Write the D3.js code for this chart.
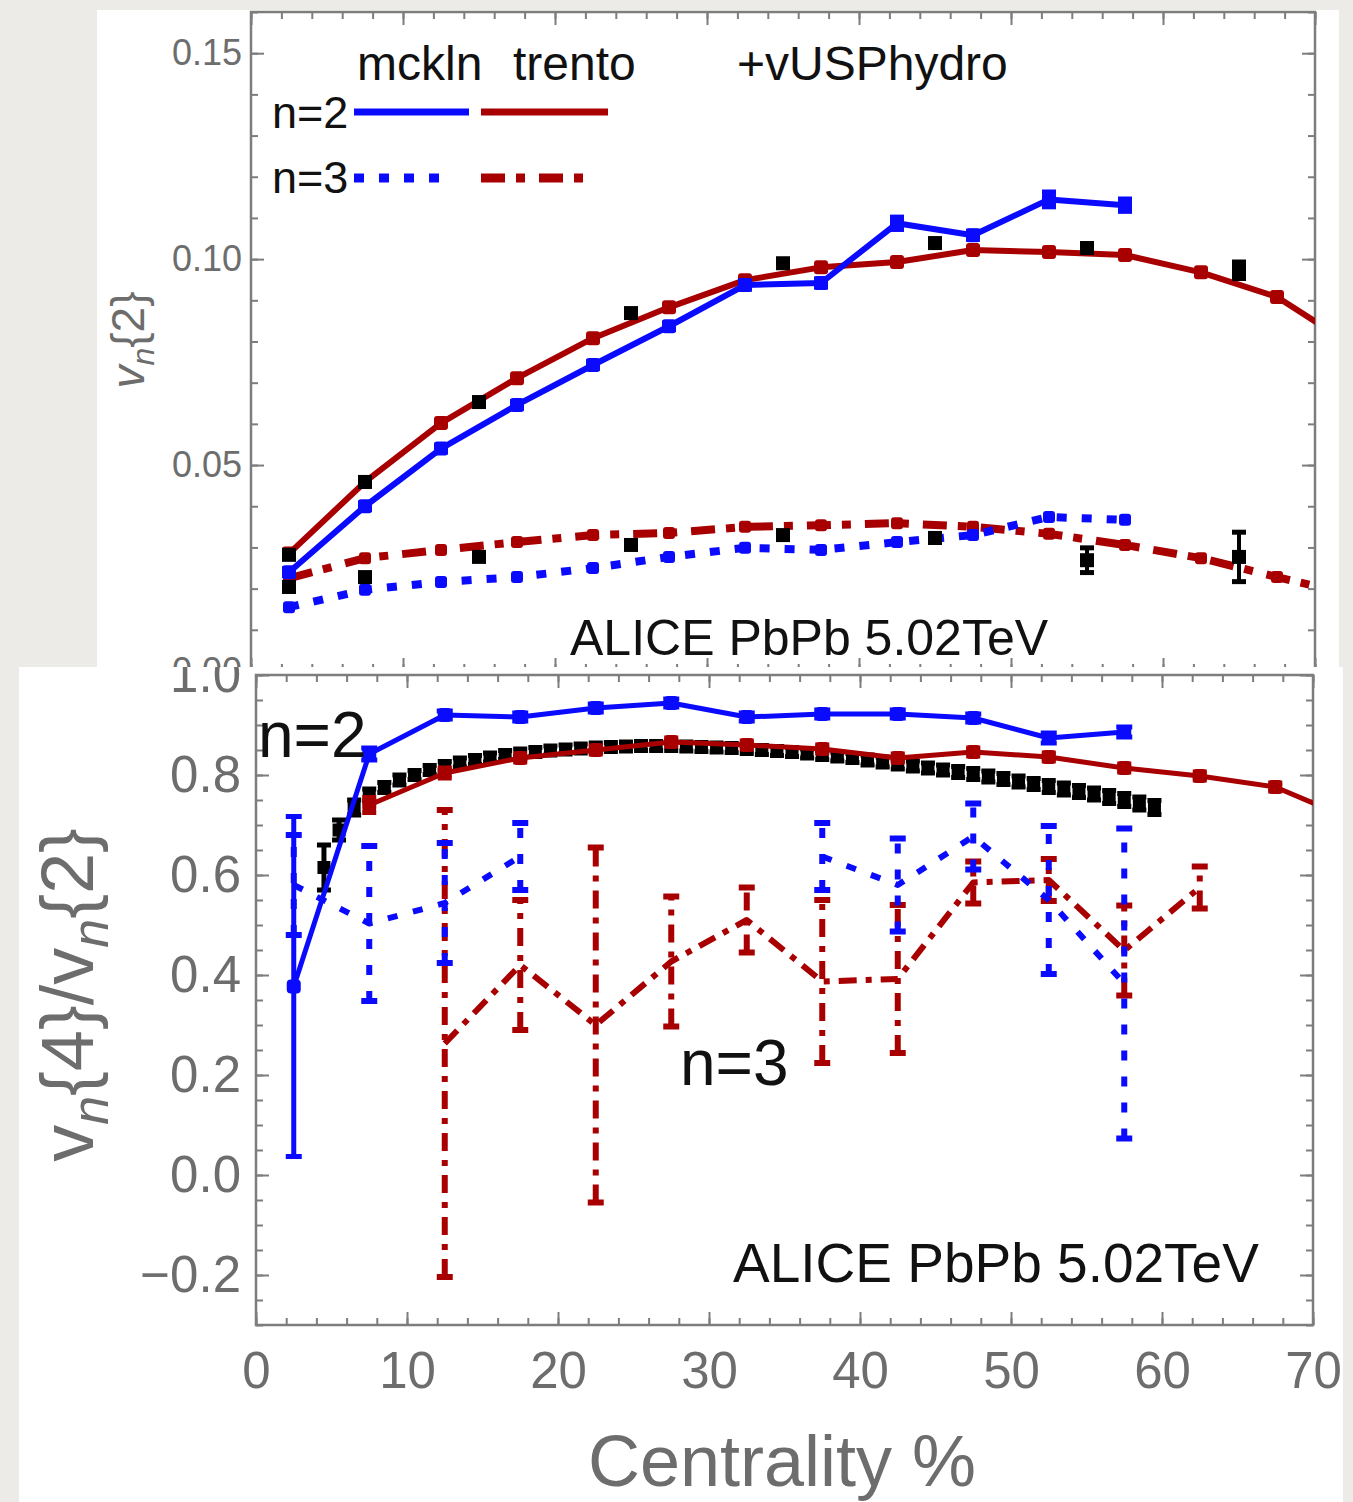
<!DOCTYPE html>
<html>
<head>
<meta charset="utf-8">
<script src="https://cdn.jsdelivr.net/npm/d3@7"></script>
<style>
body { margin: 0; background: #ecebe8; }
svg { display: block; }
text { font-family: "Liberation Sans", Arial, Helvetica, sans-serif; }
</style>
</head>
<body>
<svg id="chart" width="1353" height="1502"></svg>
<script>
// ---- top panel: vn{2} ----
var cModel = [2.5, 7.5, 12.5, 17.5, 22.5, 27.5, 32.5, 37.5, 42.5, 47.5, 52.5, 57.5, 62.5, 67.5, 72.5];
var v2Mckln = [0.0240, 0.0400, 0.0540, 0.0646, 0.0743, 0.0837, 0.0937, 0.0942, 0.1087, 0.1058, 0.1145, 0.1131];
var v2McklnErr = [0.0008, 0.0008, 0.0008, 0.0008, 0.0008, 0.0008, 0.001, 0.001, 0.0015, 0.001, 0.0018, 0.0015];
var v2Trento = [0.0285, 0.0459, 0.0602, 0.0711, 0.0808, 0.0883, 0.0949, 0.0980, 0.0993, 0.1022, 0.1017, 0.1010, 0.0968, 0.0908, 0.0790];
var v3Mckln = [0.0155, 0.0197, 0.0216, 0.0228, 0.0250, 0.0277, 0.0299, 0.0294, 0.0313, 0.0330, 0.0374, 0.0367];
var v3Trento = [0.0225, 0.0274, 0.0294, 0.0313, 0.0330, 0.0335, 0.0350, 0.0354, 0.0359, 0.0350, 0.0333, 0.0306, 0.0274, 0.0228, 0.0185];

var cAlice = [2.5, 7.5, 15, 25, 35, 45, 55, 65];
var v2Alice = [0.0282, 0.0459, 0.0653, 0.0869, 0.0990, 0.1039, 0.1027, 0.0973];
var v2AliceErr = [0.0005, 0.0005, 0.0005, 0.0005, 0.0006, 0.0008, 0.001, 0.002];
var v3Alice = [0.0204, 0.0228, 0.0277, 0.0306, 0.0330, 0.0323, 0.0269, 0.0277];
var v3AliceErr = [0.0005, 0.0005, 0.0005, 0.0006, 0.0008, 0.001, 0.003, 0.006];

// ---- bottom panel: vn{4}/vn{2} ----
var r2Mckln = [0.377, 0.842, 0.920, 0.916, 0.934, 0.944, 0.916, 0.922, 0.922, 0.914, 0.874, 0.886];
var r2McklnErr = [0.34, 0.012, 0.008, 0.008, 0.008, 0.008, 0.008, 0.008, 0.008, 0.008, 0.01, 0.01];
var r2Trento = [null, 0.740, 0.804, 0.834, 0.850, 0.866, 0.860, 0.852, 0.834, 0.846, 0.836, 0.814, 0.798, 0.776, 0.712];
var r2TrentoErr = [null, 0.015, 0.01, 0.008, 0.008, 0.008, 0.008, 0.008, 0.008, 0.008, 0.008, 0.008, 0.008, 0.008, 0.008];
var r3Mckln = [0.58, 0.503, 0.544, 0.637, null, null, null, 0.637, 0.58, 0.677, 0.55, 0.383];
var r3McklnErr = [0.10, 0.155, 0.12, 0.067, null, null, null, 0.067, 0.093, 0.066, 0.148, 0.31];
var r3Trento = [null, null, 0.263, 0.42, 0.30, 0.427, 0.51, 0.387, 0.392, 0.585, 0.59, 0.449, 0.575];
var r3TrentoErr = [null, null, 0.467, 0.13, 0.355, 0.13, 0.065, 0.163, 0.148, 0.042, 0.042, 0.09, 0.042];

var cRatio = [4.5, 5.5, 6.5, 7.5, 8.5, 9.5, 10.5, 11.5, 12.5, 13.5, 14.5, 15.5, 16.5, 17.5, 18.5, 19.5,
    20.5, 21.5, 22.5, 23.5, 24.5, 25.5, 26.5, 27.5, 28.5, 29.5, 30.5, 31.5, 32.5, 33.5, 34.5, 35.5,
    36.5, 37.5, 38.5, 39.5, 40.5, 41.5, 42.5, 43.5, 44.5, 45.5, 46.5, 47.5, 48.5, 49.5, 50.5, 51.5,
    52.5, 53.5, 54.5, 55.5, 56.5, 57.5, 58.5, 59.5];
var rAlice = [0.615, 0.690, 0.735, 0.760, 0.775, 0.790, 0.800, 0.810, 0.818, 0.825, 0.830, 0.835, 0.840, 0.843, 0.846, 0.849,
    0.851, 0.853, 0.855, 0.856, 0.857, 0.858, 0.858, 0.858, 0.857, 0.856, 0.855, 0.854, 0.852, 0.850, 0.848, 0.846,
    0.843, 0.840, 0.837, 0.834, 0.830, 0.826, 0.822, 0.818, 0.814, 0.810, 0.806, 0.802, 0.797, 0.792, 0.787, 0.782,
    0.777, 0.772, 0.767, 0.762, 0.756, 0.750, 0.743, 0.735];
var rAliceErr = [0.045, 0.02, 0.015, 0.012, 0.01, 0.01, 0.009, 0.009, 0.009, 0.009, 0.009, 0.009, 0.009, 0.009, 0.009, 0.009,
    0.009, 0.009, 0.009, 0.009, 0.009, 0.009, 0.009, 0.009, 0.009, 0.009, 0.009, 0.009, 0.009, 0.009, 0.009, 0.009,
    0.009, 0.009, 0.009, 0.009, 0.01, 0.01, 0.01, 0.01, 0.01, 0.01, 0.011, 0.011, 0.011, 0.011, 0.011, 0.011,
    0.012, 0.012, 0.012, 0.012, 0.013, 0.013, 0.013, 0.014];

var BLUE = '#0a0aff', RED = '#a80000', GREY = '#6d6d6d', FRAME = '#7d7d7d';

var svg = d3.select('#chart');
var defs = svg.append('defs');

function clip(id, x, y, w, h) {
    defs.append('clipPath').attr('id', id)
        .append('rect').attr('x', x).attr('y', y).attr('width', w).attr('height', h);
    return 'url(#' + id + ')';
}

function pairs(xs, ys, es) {
    return ys.map(function(v, i) { return { c: xs[i], v: v, e: es ? es[i] : null }; });
}

function frameAxes(g, x, y, o) {
    var xr = x.range(), yr = y.range();
    var sides = [
        [d3.axisBottom(x), 'translate(0,' + yr[0] + ')', o.xMinor, o.xMajor, true],
        [d3.axisTop(x), 'translate(0,' + yr[1] + ')', o.xMinor, o.xMajor, false],
        [d3.axisLeft(y), 'translate(' + xr[0] + ',0)', o.yMinor, o.yMajor, true],
        [d3.axisRight(y), 'translate(' + xr[1] + ',0)', o.yMinor, o.yMajor, false]
    ];
    sides.forEach(function(s, k) {
        var isX = k < 2;
        var ax = s[0];
        g.append('g').attr('transform', s[1])
            .call(ax.tickValues(s[2]).tickSize(-7).tickFormat(''))
            .call(function(a) { a.select('.domain').remove(); });
        var labels = s[4] && (isX ? o.xLabels : true);
        var fmt = isX ? d3.format('d') : d3.format(o.yFormat);
        g.append('g').attr('transform', s[1])
            .call(ax.tickValues(s[3]).tickSize(-13).tickPadding(isX ? o.xPad : o.yPad)
                .tickFormat(labels ? fmt : ''))
            .call(function(a) { a.select('.domain').remove(); });
    });
    g.selectAll('.tick line').attr('stroke', FRAME).attr('stroke-width', 2);
    g.selectAll('.tick text').attr('fill', GREY).attr('font-size', o.fontSize)
        .attr('font-family', '"Liberation Sans", Arial, sans-serif');
    g.append('rect').attr('x', xr[0]).attr('y', yr[1])
        .attr('width', xr[1] - xr[0]).attr('height', yr[0] - yr[1])
        .attr('fill', 'none').attr('stroke', FRAME).attr('stroke-width', 2.5);
}

function series(g, x, y, data, st) {
    var line = d3.line().defined(function(d) { return d.v != null; })
        .x(function(d) { return x(d.c); }).y(function(d) { return y(d.v); });
    if (st.width) {
        g.append('path').datum(data).attr('d', line)
            .attr('fill', 'none').attr('stroke', st.color).attr('stroke-width', st.width)
            .attr('stroke-dasharray', st.dash || null).attr('stroke-linejoin', 'round');
    }
    var pts = data.filter(function(d) { return d.v != null; });
    var withErr = pts.filter(function(d) { return d.e; });
    var eb = g.append('g').attr('stroke', st.color);
    eb.selectAll('line.bar').data(withErr).enter().append('line')
        .attr('x1', function(d) { return x(d.c); }).attr('x2', function(d) { return x(d.c); })
        .attr('y1', function(d) { return y(d.v - d.e); }).attr('y2', function(d) { return y(d.v + d.e); })
        .attr('stroke-width', st.barWidth || st.width).attr('stroke-dasharray', st.barDash || null);
    [-1, 1].forEach(function(sgn) {
        eb.selectAll('line.cap' + sgn).data(withErr).enter().append('line')
            .attr('x1', function(d) { return x(d.c) - st.cap; }).attr('x2', function(d) { return x(d.c) + st.cap; })
            .attr('y1', function(d) { return y(d.v + sgn * d.e); }).attr('y2', function(d) { return y(d.v + sgn * d.e); })
            .attr('stroke-width', st.capWidth || 5);
    });
    if (st.marker) {
        g.selectAll(null).data(pts).enter().append('rect')
            .attr('x', function(d) { return x(d.c) - st.marker / 2; })
            .attr('y', function(d) { return y(d.v) - st.marker / 2; })
            .attr('width', st.marker).attr('height', st.marker)
            .attr('rx', st.round || 0)
            .attr('fill', st.color);
    }
}

// ================= top card =================
var topCard = svg.append('g').attr('clip-path', clip('topCard', 97, 10, 1242, 657));
topCard.append('rect').attr('x', 97).attr('y', 10).attr('width', 1242).attr('height', 657).attr('fill', '#fff');

var xTop = d3.scaleLinear().domain([0, 70]).range([251, 1315]);
var yTop = d3.scaleLinear().domain([0, 0.16]).range([671, 12]);

frameAxes(topCard, xTop, yTop, {
    xMinor: d3.range(0, 71, 2), xMajor: d3.range(0, 71, 10), xLabels: false,
    yMinor: d3.range(0, 0.161, 0.01), yMajor: [0, 0.05, 0.10, 0.15],
    yFormat: '.2f', fontSize: 36, yPad: 9, xPad: 10
});

var topPlot = topCard.append('g').attr('clip-path', clip('topPlot', 251, 12, 1064, 659));
var dotTop = '10,15', ddTop = '24,11,9,14';
series(topPlot, xTop, yTop, pairs(cModel, v3Trento), { color: RED, width: 8, dash: ddTop, marker: 12, round: 3 });
series(topPlot, xTop, yTop, pairs(cModel, v3Mckln), { color: BLUE, width: 8, dash: dotTop, marker: 12, round: 3 });
series(topPlot, xTop, yTop, pairs(cModel, v2Trento), { color: RED, width: 6, marker: 14, round: 3 });
series(topPlot, xTop, yTop, pairs(cModel, v2Mckln, v2McklnErr), { color: BLUE, width: 6, marker: 14, round: 3, cap: 7, barWidth: 5 });
series(topPlot, xTop, yTop, pairs(cAlice, v2Alice, v2AliceErr), { color: '#000', width: 0, marker: 14, cap: 7, barWidth: 4 });
series(topPlot, xTop, yTop, pairs(cAlice, v3Alice, v3AliceErr), { color: '#000', width: 0, marker: 14, cap: 7, barWidth: 4 });

// legend
var lg = topCard.append('g').attr('font-size', 48).attr('fill', '#111');
lg.append('text').attr('x', 357).attr('y', 80).text('mckln');
lg.append('text').attr('x', 513).attr('y', 80).text('trento');
lg.append('text').attr('x', 737).attr('y', 80).text('+vUSPhydro');
lg.append('text').attr('x', 272).attr('y', 128).attr('font-size', 45).text('n=2');
lg.append('text').attr('x', 272).attr('y', 193).attr('font-size', 45).text('n=3');
var legendRows = [
    [112, BLUE, null, 354, 469], [112, RED, null, 481, 608],
    [178, BLUE, dotTop, 354, 448], [178, RED, ddTop, 481, 590]
];
lg.selectAll('line').data(legendRows).enter().append('line')
    .attr('x1', function(d) { return d[3]; }).attr('x2', function(d) { return d[4]; })
    .attr('y1', function(d) { return d[0]; }).attr('y2', function(d) { return d[0]; })
    .attr('stroke', function(d) { return d[1]; })
    .attr('stroke-width', function(d) { return d[2] ? 9 : 7; })
    .attr('stroke-dasharray', function(d) { return d[2]; });

topCard.append('text').attr('x', 570).attr('y', 655).attr('font-size', 50).attr('fill', '#111')
    .text('ALICE PbPb 5.02TeV');

var ylTop = topCard.append('text').attr('transform', 'translate(144,340) rotate(-90)')
    .attr('text-anchor', 'middle').attr('font-size', 46).attr('fill', GREY);
ylTop.append('tspan').attr('font-style', 'italic').text('v');
ylTop.append('tspan').attr('font-style', 'italic').attr('font-size', 32).attr('dy', 10).text('n');
ylTop.append('tspan').attr('dy', -10).text('{2}');

// ================= bottom card =================
var botCard = svg.append('g').attr('clip-path', clip('botCard', 19, 667, 1324, 835));
botCard.append('rect').attr('x', 19).attr('y', 667).attr('width', 1324).attr('height', 835).attr('fill', '#fff');

var xBot = d3.scaleLinear().domain([0, 70]).range([256, 1313]);
var yBot = d3.scaleLinear().domain([-0.3, 1.0]).range([1325, 675]);

frameAxes(botCard, xBot, yBot, {
    xMinor: d3.range(0, 71, 2), xMajor: d3.range(0, 71, 10), xLabels: true,
    yMinor: d3.range(-0.3, 1.001, 0.05), yMajor: [-0.2, 0, 0.2, 0.4, 0.6, 0.8, 1.0],
    yFormat: '.1f', fontSize: 51, yPad: 15, xPad: 27
});

var botPlot = botCard.append('g').attr('clip-path', clip('botPlot', 256, 675, 1057, 650));
var dotBot = '10,16', ddBot = '18,9,6,9';
series(botPlot, xBot, yBot, pairs(cModel, r3Trento, r3TrentoErr), { color: RED, width: 6, dash: ddBot, barDash: ddBot, cap: 8, capWidth: 6 });
series(botPlot, xBot, yBot, pairs(cModel, r3Mckln, r3McklnErr), { color: BLUE, width: 6, dash: dotBot, barDash: dotBot, cap: 8, capWidth: 6 });
series(botPlot, xBot, yBot, pairs(cRatio, rAlice, rAliceErr), { color: '#000', width: 0, marker: 13, cap: 7, capWidth: 5, barWidth: 5 });
series(botPlot, xBot, yBot, pairs(cModel, r2Trento, r2TrentoErr), { color: RED, width: 5, marker: 14, round: 4, cap: 7 });
series(botPlot, xBot, yBot, pairs(cModel, r2Mckln, r2McklnErr), { color: BLUE, width: 5, marker: 14, round: 4, cap: 8, barWidth: 5 });

botCard.append('text').attr('x', 258).attr('y', 757).attr('font-size', 64).attr('fill', '#111').text('n=2');
botCard.append('text').attr('x', 680).attr('y', 1085).attr('font-size', 64).attr('fill', '#111').text('n=3');
botCard.append('text').attr('x', 733).attr('y', 1282).attr('font-size', 55).attr('fill', '#111')
    .text('ALICE PbPb 5.02TeV');

var ylBot = botCard.append('text').attr('transform', 'translate(93,995) rotate(-90)')
    .attr('text-anchor', 'middle').attr('font-size', 74).attr('fill', GREY);
ylBot.append('tspan').text('v');
ylBot.append('tspan').attr('font-style', 'italic').attr('font-size', 52).attr('dy', 15).text('n');
ylBot.append('tspan').attr('dy', -15).text('{4}/v');
ylBot.append('tspan').attr('font-style', 'italic').attr('font-size', 52).attr('dy', 15).text('n');
ylBot.append('tspan').attr('dy', -15).text('{2}');

botCard.append('text').attr('x', 782).attr('y', 1486).attr('text-anchor', 'middle')
    .attr('font-size', 72).attr('fill', GREY).text('Centrality %');
</script>
</body>
</html>
